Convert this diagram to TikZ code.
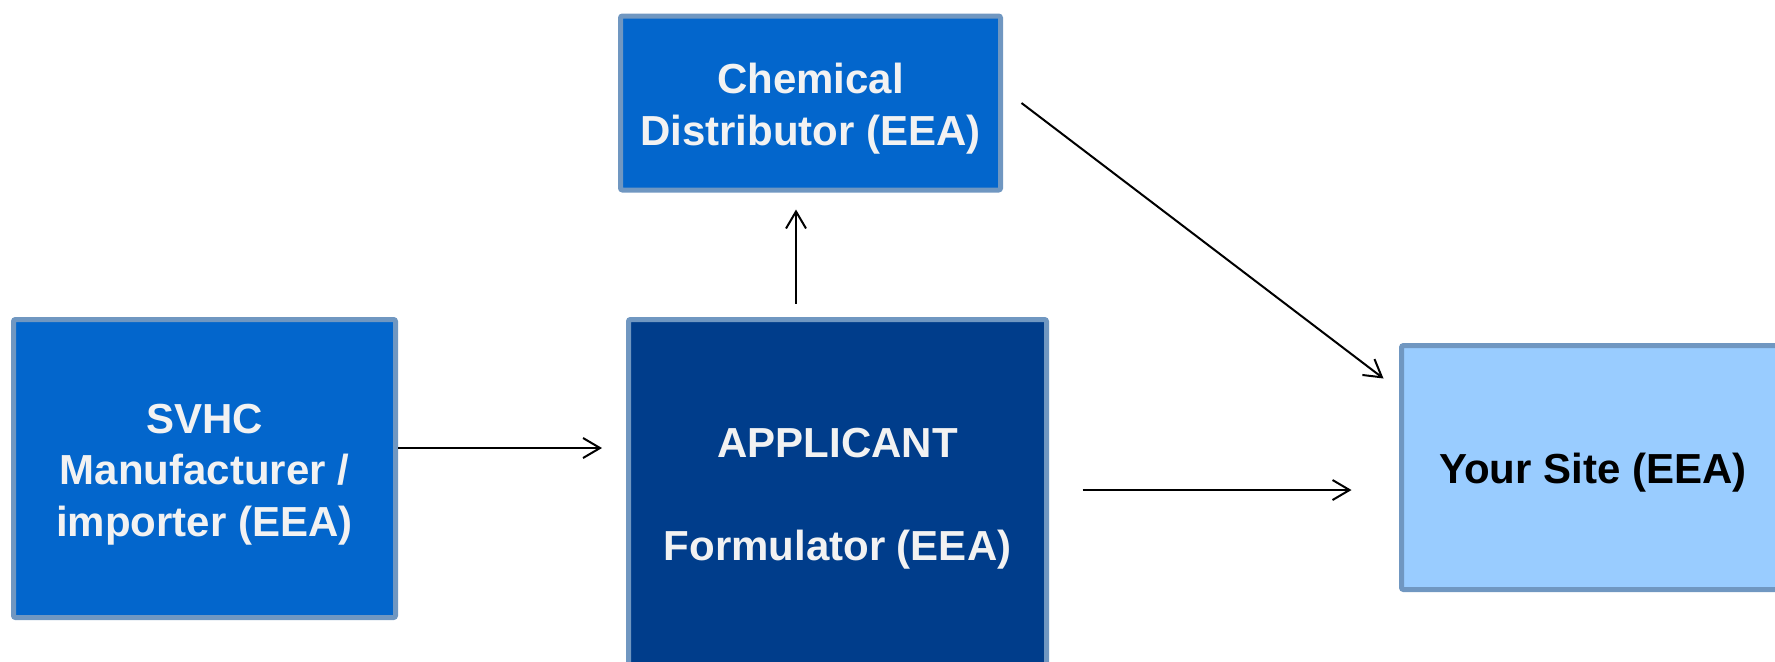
\documentclass[tikz,border=0pt]{standalone}
\usepackage{fontspec}
\setmainfont{Liberation Sans}
\usetikzlibrary{arrows.meta}
\definecolor{midblue}{RGB}{3,102,204}
\definecolor{darkblue}{RGB}{0,61,139}
\definecolor{lightblue}{RGB}{153,204,255}
\definecolor{edgeblue}{RGB}{112,151,193}
\definecolor{offwhite}{RGB}{242,242,242}
\newcommand{\lowtext}[1]{\raisebox{0pt}[\dimexpr\height+6pt\relax][\depth]{\begin{tabular}{@{}c@{}}#1\end{tabular}}}
\tikzset{
  boxstyle/.style={draw=edgeblue, line width=2.5pt, rounded corners=1pt,
    inner sep=0pt,
    font=\fontsize{21}{25.75}\selectfont\bfseries},
  arr/.style={draw=black, line width=1pt,
    -{Straight Barb[length=8.5pt,width=10pt,line width=1pt]}}
}
\begin{document}
\begin{tikzpicture}[x=0.5pt,y=-0.5pt]
\useasboundingbox (0,0) rectangle (1775,661);
\clip (0,0) rectangle (1775,661);
\node[boxstyle, fill=midblue, text=offwhite, minimum width=190pt, minimum height=87pt]
  (chem) at (810.5,103) {\lowtext{Chemical\\Distributor (EEA)}};
\node[boxstyle, fill=midblue, text=offwhite, minimum width=191pt, minimum height=149pt]
  (svhc) at (204.5,468.5) {\lowtext{SVHC\\Manufacturer /\\importer (EEA)}};
\node[boxstyle, fill=darkblue, text=offwhite, minimum width=209pt, minimum height=173.5pt]
  (app) at (837.5,493) {\lowtext{APPLICANT\\[25.75pt]Formulator (EEA)}};
\node[boxstyle, fill=lightblue, text=black, minimum width=191.5pt, minimum height=122pt]
  (site) at (1593,467.5) {\lowtext{Your Site (EEA)}};
% SVHC -> APPLICANT
\path ([yshift=10.25pt]svhc.east) coordinate (s1);
\draw[arr, shorten >=12pt] (s1) -- (s1 -| app.west);
% APPLICANT -> Chemical
\path ([xshift=-20.75pt]app.north) coordinate (a1);
\draw[arr, shorten <=6.75pt, shorten >=8.5pt] (a1) -- (a1 |- chem.south);
% Chemical -> Your Site
\coordinate (c1) at ([xshift=9.25pt]chem.east);
\coordinate (t1) at ([xshift=-7.75pt,yshift=-17.75pt]site.north west);
\draw[arr] (c1) -- (t1);
% APPLICANT -> Your Site
\path ([yshift=-11.25pt]site.west) coordinate (w1);
\draw[arr, shorten <=16.75pt, shorten >=23.75pt] (app.east |- w1) -- (w1);
\end{tikzpicture}
\end{document}
